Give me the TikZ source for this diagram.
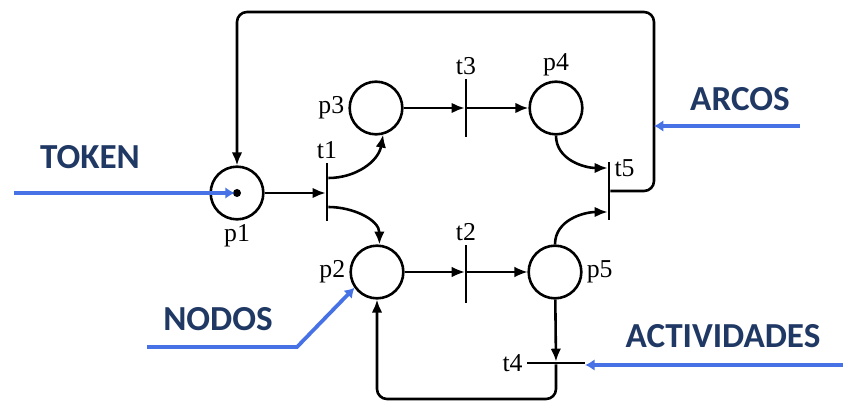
\documentclass[tikz,border=0pt]{standalone}
\usepackage{fontspec}
\setmainfont{Liberation Serif}
\newfontfamily\notefont{Carlito}
\usetikzlibrary{arrows.meta,calc,positioning}
\definecolor{notenavy}{RGB}{31,56,100}
\definecolor{noteblue}{RGB}{70,114,230}

\begin{document}
\begin{tikzpicture}[x=.03cm,y=-.03cm,font=\fontsize{22}{23}\selectfont,
    pnode/.style={circle,draw,line width=2.2pt,minimum size=1.58cm,inner sep=0pt},
    vbar/.style={fill=black,minimum width=2pt,minimum height=1.74cm,inner sep=0pt},
    hbar/.style={fill=black,minimum height=2pt,minimum width=1.74cm,inner sep=0pt},
    flow/.style={line width=2.2pt,-{Latex[length=11pt,width=9pt]}},
    note/.style={noteblue,line width=3.2pt,-{Latex[length=8pt,width=10pt]}},
    notetext/.style={text=notenavy,font=\notefont\bfseries\fontsize{30}{32}\selectfont}]
    \useasboundingbox (0,0) rectangle (843,404);
    % places and transitions
    \node[pnode] (p1) at (237,193) {};
    \fill (p1.center) circle (.12cm);
    \node[pnode] (p2) at (377,272) {};
    \node[pnode] (p3) at (376,108) {};
    \node[pnode] (p4) at (556,108) {};
    \node[pnode] (p5) at (555,272) {};
    \node[vbar] (t1) at (327,192) {};
    \node[vbar] (t2) at (466,274) {};
    \node[vbar] (t3) at (466,108) {};
    \node[vbar] (t5) at (609,191) {};
    \node[hbar] (t4) at (556,363) {};
    \node[below=0pt of p1] {p1};
    \node[left=0pt of p2] {p2};
    \node[left=0pt of p3] {p3};
    \node[above=0pt of p4] {p4};
    \node[right=0pt of p5] {p5};
    \node[above=0pt of t1] {t1};
    \node[above=0pt of t2] {t2};
    \node[above=0pt of t3] {t3};
    \node[anchor=west] at ([yshift=-.2cm]t5.north east) {t5};
    \node[left=0pt of t4] {t4};
    \coordinate (loopR) at (654,12);
    \coordinate (loopB) at (466,399);
    % arcs
    \draw[flow] (p1) -- (p1 -| t1.west);
    \draw[flow] ([yshift=.42cm]t1.east) to[out=0,in=-100] (p3.-75);
    \draw[flow] ([yshift=-.45cm]t1.east) to[out=0,in=90] (p2.85);
    \draw[flow] (p3) -- (t3);
    \draw[flow] (t3) -- (p4);
    \draw[flow,line width=1.2pt] (p2) -- (p2 -| t2.west);
    \draw[flow,line width=1.2pt] (p5 -| t2.east) -- (p5);
    \draw[flow] (p4.south) to[out=-90,in=180] ([yshift=.69cm]t5.west);
    \draw[flow] (p5.north) to[out=90,in=180] ([yshift=-.63cm]t5.west);
    \draw[flow] (p5) -- (t4);
    \draw[flow,rounded corners=.3cm] (t5.east) -| (loopR) -| (p1.north);
    \draw[flow,rounded corners=.3cm] (t4.south) |- (loopB) -| (p2.south);
    % notes
    \coordinate (tokS) at (14,193);
    \coordinate (nodS) at (147,347);
    \coordinate (nodK) at (297,347);
    \coordinate (arcS) at (800,126);
    \coordinate (actS) at (843,365);
    \node[notetext] (token) at (90,157) {TOKEN};
    \node[notetext] (nodos) at (218,319) {NODOS};
    \node[notetext] (arcos) at (740,99) {ARCOS};
    \node[notetext] (activ) at (723,336) {ACTIVIDADES};
    \draw[note,shorten >=2pt] (tokS) -- (p1.center);
    \draw[note] (nodS) -- (nodK) -- (p2.-145);
    \draw[note] (arcS) -- (arcS -| loopR);
    \draw[note] (actS) -- (actS -| t4.east);
\end{tikzpicture}
\end{document}
